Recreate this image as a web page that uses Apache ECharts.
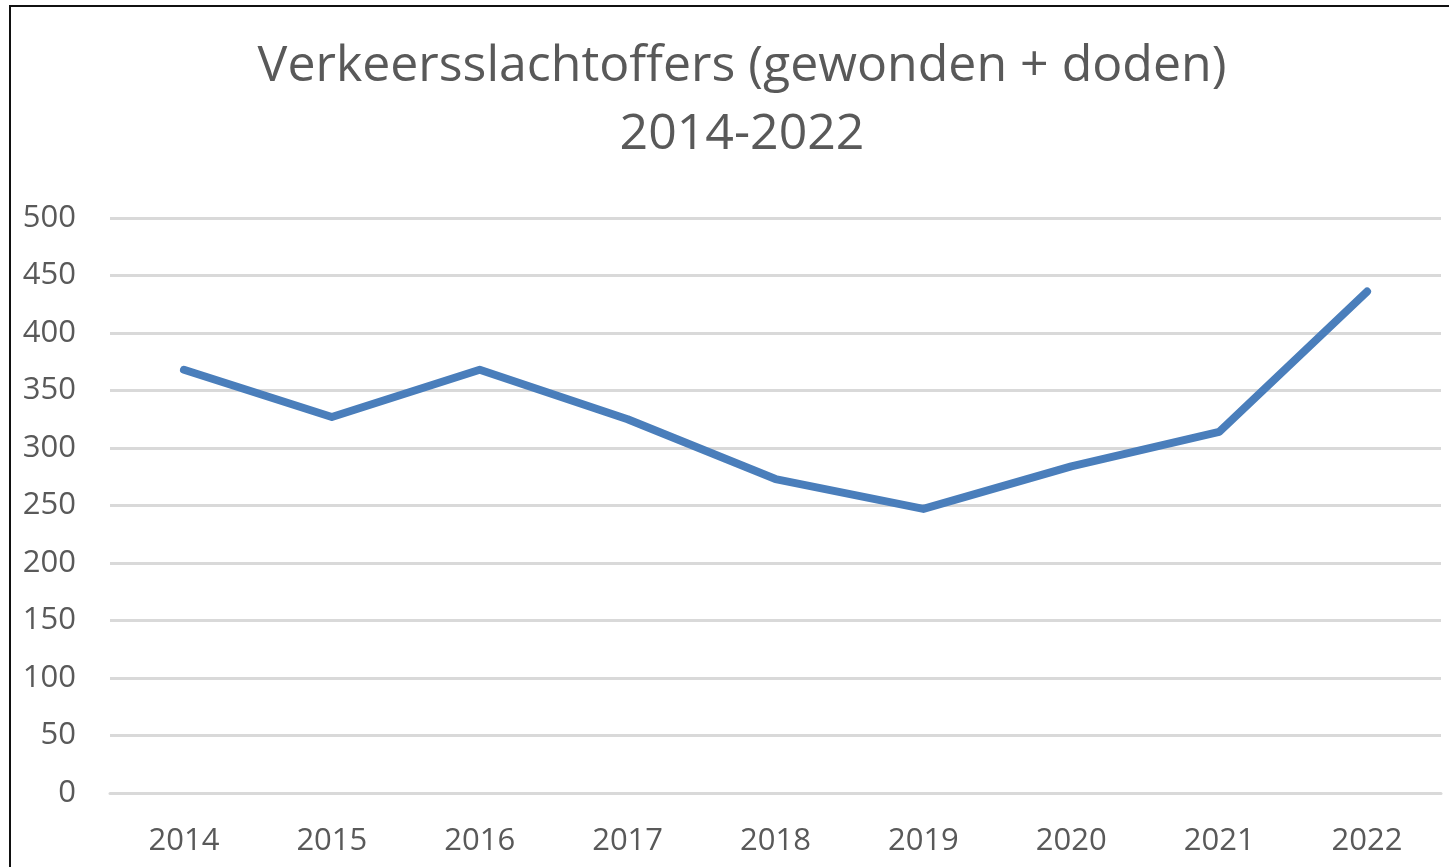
<!DOCTYPE html>
<html>
<head>
<meta charset="utf-8">
<script src="https://cdn.jsdelivr.net/npm/echarts@6/dist/echarts.min.js"></script>
<style>
    html, body { margin: 0; padding: 0; background: #fff; overflow: hidden; }
    #frame { position: absolute; left: 9px; top: 5px; width: 1500px; height: 900px; border: 2px solid #111; }
    #chart { position: absolute; left: 0; top: 0; width: 1449px; height: 867px; }
</style>
</head>
<body>
<div id="frame"></div>
<div id="chart"></div>
<script>
    var jaren = ['2014', '2015', '2016', '2017', '2018', '2019', '2020', '2021', '2022'];
    var slachtoffers = [368, 327, 368, 325, 273, 247, 284, 314, 436];

    var chart = echarts.init(document.getElementById('chart'));

    var option = {
        backgroundColor: 'transparent',
        title: {
            text: 'Verkeersslachtoffers (gewonden + doden)\n2014-2022',
            left: 737,
            textAlign: 'center',
            top: 28,
            textStyle: {
                fontFamily: 'Open Sans',
                fontWeight: 'normal',
                fontSize: 50,
                lineHeight: 68,
                color: '#595959'
            }
        },
        grid: {
            left: 110,
            right: 8,
            top: 218,
            bottom: 74
        },
        xAxis: {
            type: 'category',
            data: jaren,
            boundaryGap: true,
            axisLine: { lineStyle: { color: '#d9d9d9', width: 3 } },
            axisTick: { show: false },
            axisLabel: {
                margin: 33,
                fontFamily: 'Open Sans',
                fontSize: 31,
                color: '#595959'
            }
        },
        yAxis: {
            type: 'value',
            min: 0,
            max: 500,
            interval: 50,
            axisLine: { show: false },
            axisTick: { show: false },
            splitLine: { lineStyle: { color: '#d9d9d9', width: 3 } },
            axisLabel: {
                margin: 34,
                fontFamily: 'Open Sans',
                fontSize: 31,
                color: '#595959'
            }
        },
        series: [{
            name: 'Verkeersslachtoffers',
            type: 'line',
            data: slachtoffers,
            symbol: 'none',
            lineStyle: { color: '#4a7ebb', width: 8, cap: 'round', join: 'round' },
            itemStyle: { color: '#4a7ebb' }
        }]
    };

    chart.setOption(option);
</script>
</body>
</html>
